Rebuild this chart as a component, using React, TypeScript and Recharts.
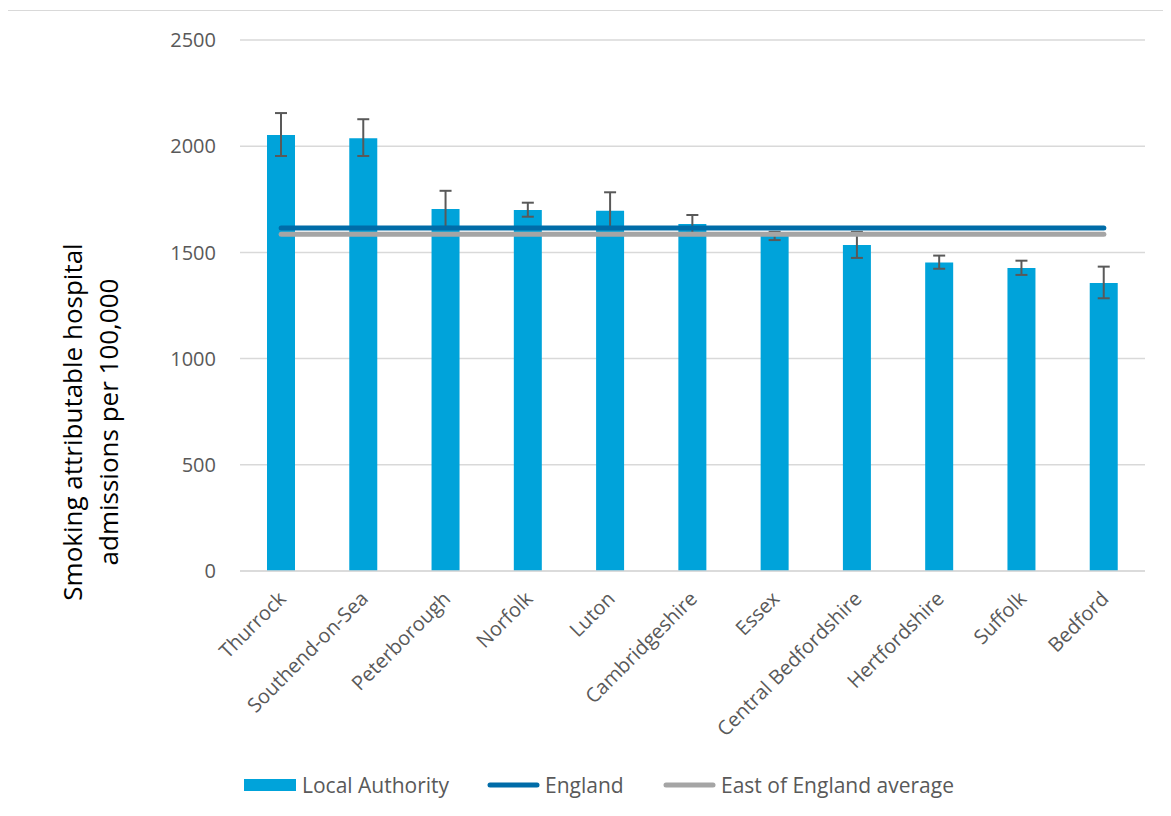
import { ComposedChart, Bar, Line, XAxis, YAxis, CartesianGrid, ErrorBar, Legend } from "recharts";

// #region Sample data
const areas = [
  "Thurrock",
  "Southend-on-Sea",
  "Peterborough",
  "Norfolk",
  "Luton",
  "Cambridgeshire",
  "Essex",
  "Central Bedfordshire",
  "Hertfordshire",
  "Suffolk",
  "Bedford",
];
const rates = [2053, 2037, 1704, 1700, 1696, 1634, 1577, 1535, 1453, 1427, 1356];
const lowerCI = [1954, 1954, 1620, 1668, 1610, 1592, 1558, 1474, 1423, 1394, 1284];
const upperCI = [2156, 2127, 1790, 1734, 1783, 1676, 1597, 1597, 1485, 1461, 1433];
const englandValue = 1615;
const eastValue = 1585;
const yTicks = [0, 500, 1000, 1500, 2000, 2500];
// #endregion

const data = areas.map((name, i) => ({
  name,
  rate: rates[i],
  err: [rates[i] - lowerCI[i], upperCI[i] - rates[i]],
  england: englandValue,
  east: eastValue,
}));

const FONT = "'Open Sans', sans-serif";
const BAR = "#00a3da";
const ENG = "#006ca8";
const EAST = "#a5a5a5";

const AreaTick = ({ x, y, payload }: any) => (
  <text
    x={x + 6}
    y={y + 21}
    transform={`rotate(-45, ${x + 6}, ${y + 21})`}
    textAnchor="end"
    fontFamily={FONT}
    fontSize={20}
    fill="#595959"
  >
    {payload.value}
  </text>
);

const AxisTitle = () => (
  <g fontFamily={FONT} fontSize={26} fill="#000">
    <text x={77} y={411} transform="rotate(-90, 77, 411)" textAnchor="middle">
      Smoking attributable hospital
    </text>
    <text x={113} y={411} transform="rotate(-90, 113, 411)" textAnchor="middle">
      admissions per 100,000
    </text>
  </g>
);

const legendItems = [
  { label: "Local Authority", color: BAR, kind: "bar", left: 239 },
  { label: "England", color: ENG, kind: "line", left: 482 },
  { label: "East of England average", color: EAST, kind: "line", left: 658 },
];

const ChartLegend = () => (
  <div style={{ position: "relative", height: 30, fontFamily: FONT, fontSize: 21, color: "#595959" }}>
    {legendItems.map((item) => (
      <div
        key={item.label}
        style={{ position: "absolute", left: item.left, top: 0, display: "flex", alignItems: "center", whiteSpace: "nowrap" }}
      >
        <svg width={53} height={14} style={{ marginRight: 5 }}>
          {item.kind === "bar" ? (
            <rect x={0} y={1} width={52} height={12} fill={item.color} />
          ) : (
            <line x1={3} y1={7} x2={50} y2={7} stroke={item.color} strokeWidth={5} strokeLinecap="round" />
          )}
        </svg>
        <span>{item.label}</span>
      </div>
    ))}
  </div>
);

export default function App() {
  return (
    <div style={{ margin: "2px 0 0 -4px", width: 1180, height: 820, border: "1px solid #d9d9d9", boxSizing: "border-box" }}>
      <ComposedChart
        width={1166}
        height={805}
        data={data}
        margin={{ top: 29, right: 26, bottom: 35, left: 175 }}
      >
        <CartesianGrid vertical={false} stroke="#d9d9d9" strokeWidth={1.5} />
        <XAxis
          dataKey="name"
          interval={0}
          height={180}
          tick={<AreaTick />}
          tickLine={false}
          axisLine={{ stroke: "#d9d9d9", strokeWidth: 1.5 }}
        />
        <YAxis
          width={60}
          domain={[0, 2500]}
          ticks={yTicks}
          axisLine={false}
          tickLine={false}
          tickMargin={18}
          tick={{ fontFamily: FONT, fontSize: 20, fill: "#595959" }}
          label={{ content: () => <AxisTitle /> }}
        />
        <Bar dataKey="rate" name="Local Authority" fill={BAR} barSize={28} isAnimationActive={false}>
          <ErrorBar dataKey="err" width={6} stroke="#595959" strokeWidth={2} isAnimationActive={false} />
        </Bar>
        <Line
          dataKey="england"
          name="England"
          stroke={ENG}
          strokeWidth={5}
          strokeLinecap="round"
          dot={false}
          activeDot={false}
          isAnimationActive={false}
        />
        <Line
          dataKey="east"
          name="East of England average"
          stroke={EAST}
          strokeWidth={5}
          strokeLinecap="round"
          dot={false}
          activeDot={false}
          isAnimationActive={false}
        />
        <Legend content={<ChartLegend />} wrapperStyle={{ left: 0, top: 760, width: 1166 }} />
      </ComposedChart>
    </div>
  );
}
